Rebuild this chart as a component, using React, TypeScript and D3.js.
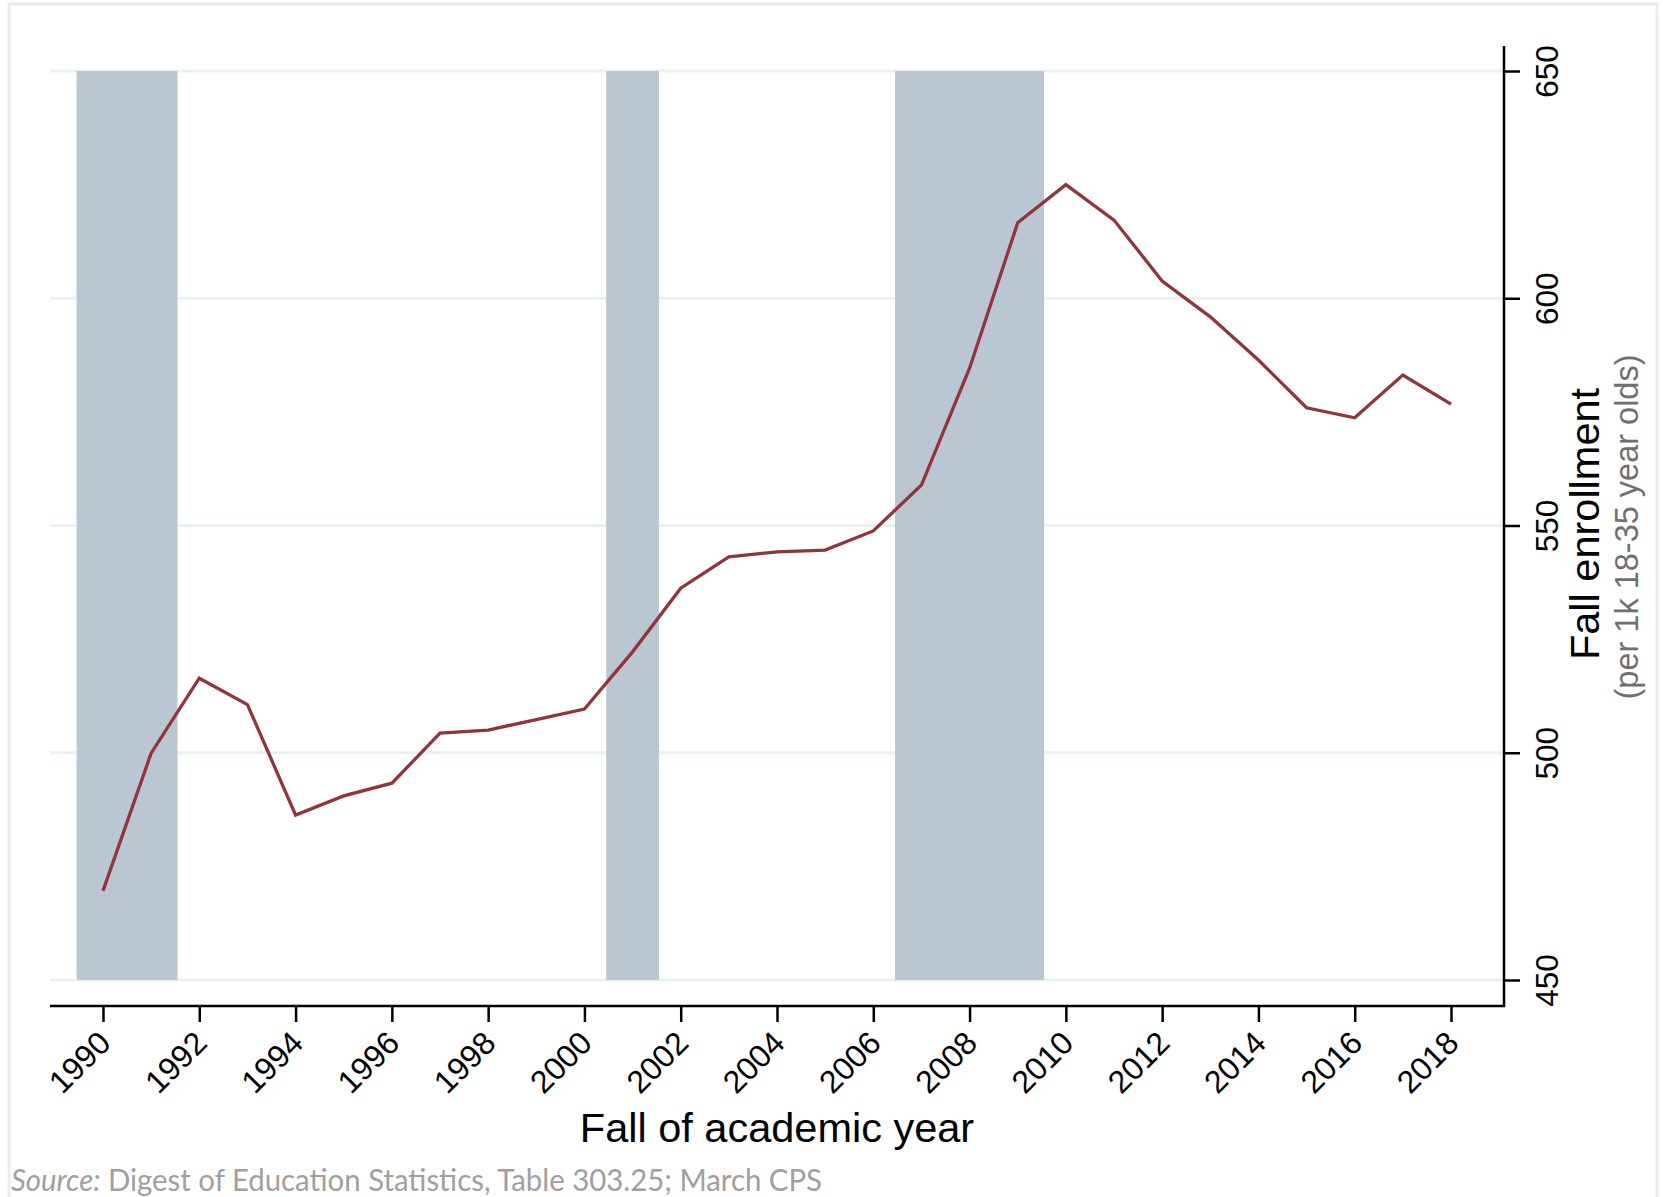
import React, { useEffect, useRef } from "react";
import * as d3 from "d3";

const years = [
  1990, 1991, 1992, 1993, 1994, 1995, 1996, 1997, 1998, 1999, 2000, 2001, 2002,
  2003, 2004, 2005, 2006, 2007, 2008, 2009, 2010, 2011, 2012, 2013, 2014, 2015,
  2016, 2017, 2018,
];
const enrollment = [
  469.6, 499.9, 516.4, 510.6, 486.3, 490.5, 493.3, 504.3, 505.0, 507.3, 509.6,
  522.2, 536.2, 543.1, 544.2, 544.6, 548.8, 558.9, 584.6, 616.6, 625.0, 617.2,
  603.8, 595.9, 586.4, 575.9, 573.7, 583.1, 576.7,
];
// recession bands (start, end) on the year axis
const recessions: [number, number][] = [
  [1989.5, 1991.5],
  [2000.5, 2001.5],
  [2006.5, 2009.5],
];
const yTicks = [450, 500, 550, 600, 650];
const xTicks = [
  1990, 1992, 1994, 1996, 1998, 2000, 2002, 2004, 2006, 2008, 2010, 2012, 2014,
  2016, 2018,
];

const W = 1663;
const H = 1197;
const sans = "'Liberation Sans', Arial, sans-serif";

export default function App() {
  const ref = useRef<SVGSVGElement>(null);

  useEffect(() => {
    const svg = d3.select(ref.current);
    svg.selectAll("*").remove();

    const x = d3.scaleLinear().domain([1990, 2018]).range([103, 1451]);
    const y = d3.scaleLinear().domain([450, 650]).range([980, 71]);
    const plotLeft = 50;
    const plotRight = 1504;
    const axisTop = 46;
    const axisBottom = 1006;

    // outer graph region border
    svg
      .append("rect")
      .attr("x", 9)
      .attr("y", 4)
      .attr("width", 1648)
      .attr("height", 1220)
      .attr("fill", "none")
      .attr("stroke", "#e6eef1")
      .attr("stroke-width", 3);

    // gridlines
    svg
      .append("g")
      .selectAll("line")
      .data(yTicks)
      .join("line")
      .attr("x1", plotLeft)
      .attr("x2", plotRight)
      .attr("y1", (d) => y(d))
      .attr("y2", (d) => y(d))
      .attr("stroke", "#e9f1f2")
      .attr("stroke-width", 3);

    // recession shading (bars are a touch wider than the half-year edges)
    svg
      .append("g")
      .selectAll("rect")
      .data(recessions)
      .join("rect")
      .attr("x", (d) => x(d[0]) - 2.3)
      .attr("width", (d) => x(d[1]) - x(d[0]) + 4.6)
      .attr("y", y(650))
      .attr("height", y(450) - y(650))
      .attr("fill", "#bac7d3");

    // series
    const line = d3
      .line<number>()
      .x((_, i) => x(years[i]))
      .y((d) => y(d));
    svg
      .append("path")
      .datum(enrollment)
      .attr("d", line)
      .attr("fill", "none")
      .attr("stroke", "#90353b")
      .attr("stroke-width", 3.3)
      .attr("stroke-linejoin", "miter");

    // axis lines
    svg
      .append("line")
      .attr("x1", plotLeft)
      .attr("x2", plotRight + 1)
      .attr("y1", axisBottom)
      .attr("y2", axisBottom)
      .attr("stroke", "#000")
      .attr("stroke-width", 2.5);
    svg
      .append("line")
      .attr("x1", plotRight)
      .attr("x2", plotRight)
      .attr("y1", axisTop)
      .attr("y2", axisBottom + 1)
      .attr("stroke", "#000")
      .attr("stroke-width", 2.5);

    // x axis
    const gx = svg
      .append("g")
      .attr("transform", `translate(0,${axisBottom})`)
      .call(
        d3
          .axisBottom(x)
          .tickValues(xTicks)
          .tickSize(16)
          .tickFormat(d3.format("d"))
      );
    gx.select(".domain").remove();
    gx.selectAll(".tick line").attr("stroke", "#000").attr("stroke-width", 2.5);
    gx.selectAll(".tick text")
      .attr("y", null)
      .attr("dy", null)
      .attr("text-anchor", "end")
      .attr("transform", "translate(9,39) rotate(-45)")
      .attr("font-family", sans)
      .attr("font-size", 32)
      .attr("fill", "#000");

    // y axis (right)
    const gy = svg
      .append("g")
      .attr("transform", `translate(${plotRight},0)`)
      .call(d3.axisRight(y).tickValues(yTicks).tickSize(16));
    gy.select(".domain").remove();
    gy.selectAll(".tick line").attr("stroke", "#000").attr("stroke-width", 2.5);
    gy.selectAll(".tick text")
      .attr("x", null)
      .attr("dy", null)
      .attr("text-anchor", "middle")
      .attr("transform", "translate(54,0) rotate(-90)")
      .attr("font-family", sans)
      .attr("font-size", 31.5)
      .attr("fill", "#000");

    // axis titles
    svg
      .append("text")
      .attr("x", 777)
      .attr("y", 1142)
      .attr("text-anchor", "middle")
      .attr("font-family", sans)
      .attr("font-size", 41.5)
      .attr("fill", "#000")
      .text("Fall of academic year");

    svg
      .append("text")
      .attr("transform", "translate(1599,524) rotate(-90)")
      .attr("text-anchor", "middle")
      .attr("font-family", sans)
      .attr("font-size", 41.5)
      .attr("fill", "#000")
      .text("Fall enrollment");

    svg
      .append("text")
      .attr("transform", "translate(1638,527) rotate(-90)")
      .attr("text-anchor", "middle")
      .attr("font-family", sans)
      .attr("font-size", 32.5)
      .attr("fill", "#6f6f6f")
      .text("(per 1k 18-35 year olds)");

    // source note
    const note = svg
      .append("text")
      .attr("x", 11)
      .attr("y", 1191)
      .attr("font-family", "Lato, 'Open Sans', sans-serif")
      .attr("font-size", 31)
      .attr("fill", "#a0a0a0")
      .attr("textLength", 811)
      .attr("lengthAdjust", "spacingAndGlyphs");
    note.append("tspan").attr("font-style", "italic").text("Source:");
    note
      .append("tspan")
      .text(" Digest of Education Statistics, Table 303.25; March CPS");
  }, []);

  return (
    <svg
      ref={ref}
      width={W}
      height={H}
      style={{ position: "absolute", left: 0, top: 0, background: "#fff" }}
    />
  );
}
